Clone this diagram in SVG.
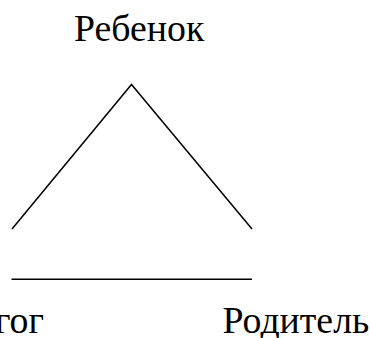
<svg xmlns="http://www.w3.org/2000/svg" width="370" height="338" viewBox="0 0 370 338">
<style>
.t{font-family:"Liberation Serif","Times New Roman",serif;font-size:37.8px;fill:#000}
.l{stroke:#000;stroke-width:1.5;fill:none}
</style>
<rect width="370" height="338" fill="#fff"/>
<g id="child"><text class="t" x="74" y="40.5">Ребенок</text></g>
<g id="teacher"><text class="t" x="44" y="333" text-anchor="end">Педагог</text></g>
<g id="parent"><text class="t" x="222.5" y="333">Родитель</text></g>
<g id="connectors">
<path class="l" d="M12 229 L131.5 84.5 L252 229"/>
<path class="l" d="M11.5 279.3 H252"/>
</g>
</svg>
